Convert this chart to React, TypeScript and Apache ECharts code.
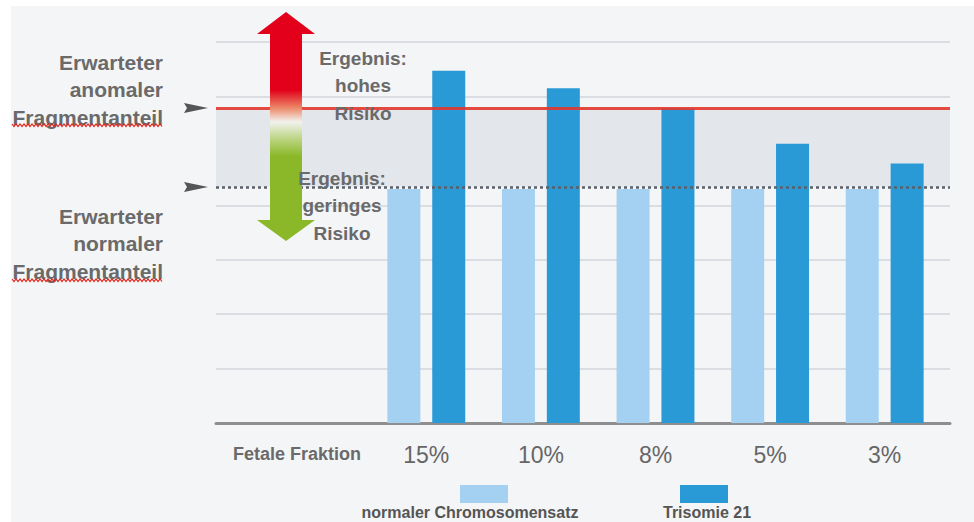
import React, { useEffect, useRef } from "react";
import * as echarts from "echarts";

const categories = ["15%", "10%", "8%", "5%", "3%"];
const normalValues = [4.3, 4.3, 4.3, 4.3, 4.3];
const trisomyValues = [6.47, 6.15, 5.78, 5.13, 4.77];
const anomalousLevel = 5.79;
const normalLevel = 4.34;
const yMax = 7;
const seriesNames = ["normaler Chromosomensatz", "Trisomie 21"];
const axisTitle = "Fetale Fraktion";
const upperLabel = ["Erwarteter", "anomaler", "Fragmentanteil"];
const lowerLabel = ["Erwarteter", "normaler", "Fragmentanteil"];
const highRisk = ["Ergebnis:", "hohes", "Risiko"];
const lowRisk = ["Ergebnis:", "geringes", "Risiko"];

const LIGHT = "#a4d1f1";
const DARK = "#2a9ad7";
const TEXT = "#6a6a6a";
const FONT = "'Liberation Sans', Arial, sans-serif";

function wavy(x0: number, x1: number, y: number) {
  const pts: number[][] = [];
  let up = true;
  for (let x = x0; x <= x1; x += 2) {
    pts.push([x, up ? y : y + 2.5]);
    up = !up;
  }
  return pts;
}

function textLines(lines: string[], x: number, y0: number, align: string, size: number, weight: string) {
  return lines.map((t, i) => ({
    type: "text",
    x,
    y: y0 + i * 27.5,
    z: 20,
    style: {
      text: t,
      fill: TEXT,
      font: `${weight} ${size}px ${FONT}`,
      align,
      verticalAlign: "middle",
    },
  }));
}

export default function App() {
  const ref = useRef<HTMLDivElement>(null);
  useEffect(() => {
    if (!ref.current) return;
    const chart = echarts.init(ref.current, null, { renderer: "svg" });
    const option: any = {
      animation: false,
      backgroundColor: "#ffffff",
      grid: [
        { left: 216, right: 24, top: 42, bottom: 99 },
        { left: 369, right: 32, top: 42, bottom: 99 },
      ],
      xAxis: [
        {
          type: "value",
          gridIndex: 0,
          min: 0,
          max: 1,
          axisLine: { show: true, lineStyle: { color: "#8e8e8e", width: 3 } },
          axisTick: { show: false },
          axisLabel: { show: false },
          splitLine: { show: false },
        },
        {
          type: "category",
          gridIndex: 1,
          data: categories,
          axisLine: { show: false },
          axisTick: { show: false },
          axisLabel: {
            color: "#666666",
            fontSize: 23,
            fontFamily: FONT,
            margin: 20,
          },
          name: axisTitle,
          nameLocation: "start",
          nameGap: 8,
          nameTextStyle: {
            color: TEXT,
            fontSize: 18,
            fontWeight: "bold",
            fontFamily: FONT,
            verticalAlign: "top",
            align: "right",
            padding: [22, 0, 0, 0],
          },
        },
      ],
      yAxis: [
        {
          type: "value",
          gridIndex: 0,
          min: 0,
          max: yMax,
          interval: 1,
          axisLine: { show: false },
          axisTick: { show: false },
          axisLabel: { show: false },
          splitLine: { show: true, lineStyle: { color: "#d2d5da", width: 1.5 } },
        },
        {
          type: "value",
          gridIndex: 1,
          min: 0,
          max: yMax,
          interval: 1,
          show: false,
        },
      ],
      series: [
        {
          type: "line",
          xAxisIndex: 0,
          yAxisIndex: 0,
          data: [],
          z: 1,
          silent: true,
          markArea: {
            silent: true,
            itemStyle: { color: "#e3e6eb" },
            data: [[{ yAxis: normalLevel }, { yAxis: anomalousLevel }]],
          },
        },
        {
          name: seriesNames[0],
          type: "bar",
          xAxisIndex: 1,
          yAxisIndex: 1,
          data: normalValues,
          barWidth: 33,
          barGap: "36%",
          itemStyle: { color: LIGHT },
          z: 3,
        },
        {
          name: seriesNames[1],
          type: "bar",
          xAxisIndex: 1,
          yAxisIndex: 1,
          data: trisomyValues,
          barWidth: 33,
          barGap: "36%",
          itemStyle: { color: DARK },
          z: 3,
        },
        {
          type: "line",
          xAxisIndex: 0,
          yAxisIndex: 0,
          data: [],
          z: 6,
          silent: true,
          markLine: {
            silent: true,
            symbol: "none",
            label: { show: false },
            data: [
              { yAxis: anomalousLevel, lineStyle: { color: "#e2372c", width: 3, type: "solid", opacity: 0.9 } },
              { yAxis: normalLevel, lineStyle: { color: "#59606a", width: 2.5, type: [3, 3] } },
            ],
          },
        },
      ],
      graphic: [
        {
          type: "rect",
          z: -10,
          silent: true,
          shape: { x: 11, y: 6, width: 963, height: 516 },
          style: { fill: "#f4f5f7" },
        },
        {
          type: "polygon",
          z: 15,
          shape: {
            points: [
              [286, 12], [315, 34], [302, 34], [302, 220], [315, 220],
              [286, 241], [257, 220], [270, 220], [270, 34], [257, 34],
            ],
          },
          style: {
            fill: new echarts.graphic.LinearGradient(0, 0, 0, 1, [
              { offset: 0, color: "#e2001a" },
              { offset: 0.34, color: "#e2001a" },
              { offset: 0.42, color: "#ec8a6a" },
              { offset: 0.48, color: "#f2f2ee" },
              { offset: 0.56, color: "#b7d27a" },
              { offset: 0.63, color: "#8ab829" },
              { offset: 1, color: "#8ab829" },
            ]),
          },
        },
        {
          type: "polygon",
          z: 15,
          shape: { points: [[184, 103], [208, 108], [184, 113], [187, 108]] },
          style: { fill: "#555555" },
        },
        {
          type: "polygon",
          z: 15,
          shape: { points: [[184, 182], [208, 187], [184, 192], [187, 187]] },
          style: { fill: "#555555" },
        },
        ...textLines(upperLabel, 163, 62, "right", 21, "bold"),
        ...textLines(lowerLabel, 163, 216, "right", 21, "bold"),
        ...textLines(highRisk, 363, 58, "center", 19, "bold"),
        ...textLines(lowRisk, 342, 178, "center", 19, "bold"),
        {
          type: "polyline",
          z: 20,
          shape: { points: wavy(12, 163, 124) },
          style: { stroke: "#e0241b", lineWidth: 1.2, fill: null },
        },
        {
          type: "polyline",
          z: 20,
          shape: { points: wavy(12, 163, 279) },
          style: { stroke: "#e0241b", lineWidth: 1.2, fill: null },
        },
        {
          type: "rect",
          shape: { x: 460, y: 485, width: 48, height: 18 },
          style: { fill: LIGHT },
        },
        {
          type: "rect",
          shape: { x: 680, y: 485, width: 48, height: 18 },
          style: { fill: DARK },
        },
        {
          type: "text",
          x: 470,
          y: 512,
          style: {
            text: seriesNames[0],
            fill: "#555555",
            font: `bold 16px ${FONT}`,
            align: "center",
            verticalAlign: "middle",
          },
        },
        {
          type: "text",
          x: 707,
          y: 512,
          style: {
            text: seriesNames[1],
            fill: "#555555",
            font: `bold 16px ${FONT}`,
            align: "center",
            verticalAlign: "middle",
          },
        },
      ],
    };
    chart.setOption(option);
    return () => chart.dispose();
  }, []);
  return (
    <div
      ref={ref}
      style={{ position: "fixed", left: 0, top: 0, width: 974, height: 522 }}
    />
  );
}
